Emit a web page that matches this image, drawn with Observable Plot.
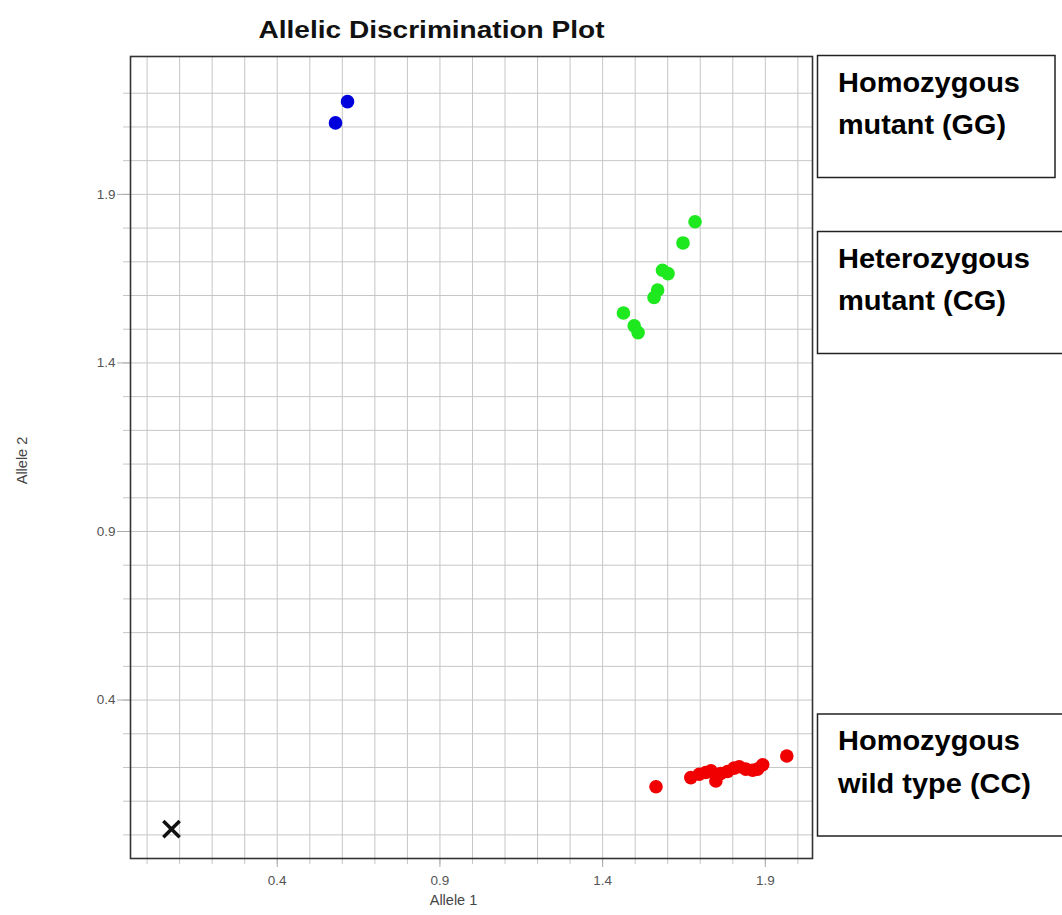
<!DOCTYPE html>
<html>
<head>
<meta charset="utf-8">
<script src="https://cdn.jsdelivr.net/npm/d3@7"></script>
<script src="https://cdn.jsdelivr.net/npm/@observablehq/plot@0.6"></script>
<style>
  body { margin: 0; background: #fff; }
  #chart { width: 1062px; height: 915px; }
</style>
</head>
<body>
<div id="chart"></div>
<script>
// Genotype clusters of an allelic discrimination (SNP genotyping) run
const genotypes = ["Homozygous mutant (GG)", "Heterozygous mutant (CG)", "Homozygous wild type (CC)"];
const genotypeColors = ["#0000dc", "#1ee81e", "#f00000"];

// Homozygous mutant (GG)
const ggAllele1 = [0.579, 0.616];
const ggAllele2 = [2.112, 2.175];

// Heterozygous mutant (CG)
const cgAllele1 = [1.464, 1.497, 1.509, 1.558, 1.569, 1.584, 1.601, 1.647, 1.684];
const cgAllele2 = [1.548, 1.510, 1.490, 1.594, 1.616, 1.675, 1.665, 1.756, 1.819];

// Homozygous wild type (CC)
const ccAllele1 = [1.564, 1.671, 1.697, 1.717, 1.733, 1.748, 1.763, 1.784, 1.804, 1.820, 1.840, 1.861, 1.876, 1.892, 1.966];
const ccAllele2 = [0.143, 0.170, 0.180, 0.185, 0.190, 0.160, 0.182, 0.188, 0.198, 0.202, 0.195, 0.192, 0.195, 0.208, 0.234];

// No-template control
const ntcAllele1 = [0.075];
const ntcAllele2 = [0.017];

// Axis ticks
const gridTicksX = [0.0, 0.1, 0.2, 0.3, 0.4, 0.5, 0.6, 0.7, 0.8, 0.9, 1.0, 1.1, 1.2, 1.3, 1.4, 1.5, 1.6, 1.7, 1.8, 1.9, 2.0];
const gridTicksY = [0.0, 0.1, 0.2, 0.3, 0.4, 0.5, 0.6, 0.7, 0.8, 0.9, 1.0, 1.1, 1.2, 1.3, 1.4, 1.5, 1.6, 1.7, 1.8, 1.9, 2.0, 2.1, 2.2];
const tickLabelsX = [0.4, 0.9, 1.4, 1.9];
const tickLabelsY = [0.4, 0.9, 1.4, 1.9];

const titleText = "Allelic Discrimination Plot";
const xLabel = "Allele 1";
const yLabel = "Allele 2";
const boxLines = [
  ["Homozygous", "mutant (GG)"],
  ["Heterozygous", "mutant (CG)"],
  ["Homozygous", "wild type (CC)"]
];

// Build sample rows
const samples = [];
[[ggAllele1, ggAllele2], [cgAllele1, cgAllele2], [ccAllele1, ccAllele2]].forEach(([a1, a2], g) => {
  a1.forEach((v, i) => samples.push({genotype: genotypes[g], allele1: v, allele2: a2[i]}));
});
const ntc = ntcAllele1.map((v, i) => ({allele1: v, allele2: ntcAllele2[i]}));

const font = "'Liberation Sans', Arial, sans-serif";

const plot = Plot.plot({
  width: 1062,
  height: 915,
  marginLeft: 130,
  marginRight: 250,
  marginTop: 56,
  marginBottom: 57,
  x: {domain: [-0.051, 2.045]},
  y: {domain: [-0.07, 2.309]},
  color: {domain: genotypes, range: genotypeColors},
  style: {fontFamily: font, fontSize: "14px", background: "#fff", overflow: "visible"},
  marks: [
    Plot.gridX(gridTicksX, {stroke: "#c6c6c6", strokeOpacity: 1, insetBottom: -6}),
    Plot.gridY(gridTicksY, {stroke: "#c6c6c6", strokeOpacity: 1, insetLeft: -7}),
    Plot.axisX(tickLabelsX, {tickSize: 9, tickPadding: 8, tickFormat: ".1f", stroke: "#aaa", fill: "#555", fontSize: 13.5, label: null}),
    Plot.axisY(tickLabelsY, {tickSize: 13, tickPadding: 2, tickFormat: ".1f", stroke: "#aaa", fill: "#555", fontSize: 13.5, label: null}),
    Plot.dot(samples, {x: "allele1", y: "allele2", fill: "genotype", r: 6.8}),
    Plot.dot(ntc, {x: "allele1", y: "allele2", symbol: "times", r: 7.5, stroke: "#111", strokeWidth: 3.5}),
    Plot.frame({stroke: "#333", strokeWidth: 1.6}),
    Plot.text([titleText], {text: d => d, frameAnchor: "top", textAnchor: "middle", lineAnchor: "middle", dx: -40, dy: -26, fontSize: 23, fontWeight: "bold", fill: "#111"}),
    Plot.text([xLabel], {text: d => d, frameAnchor: "bottom", textAnchor: "middle", lineAnchor: "middle", dx: -18, dy: 42, fontSize: 14.5, fill: "#444"}),
    Plot.text([yLabel], {text: d => d, frameAnchor: "left", textAnchor: "middle", lineAnchor: "middle", rotate: -90, dx: -108, dy: 3, fontSize: 14.5, fill: "#444"})
  ]
});

const svg = d3.select(plot);

// Stretch the title to its printed width
svg.selectAll("text").filter(function() { return this.textContent === titleText; })
  .attr("textLength", 346).attr("lengthAdjust", "spacingAndGlyphs");

// Genotype call boxes beside the plot
const boxTops = [55.5, 231.5, 714];
const boxWidths = [237.5, 260, 260];
const lineWidths = [[182, 168], [192, 168], [182, 193]];
const boxes = svg.append("g")
  .attr("font-family", font)
  .attr("font-weight", "bold")
  .attr("font-size", 27)
  .attr("text-anchor", "start")
  .attr("fill", "#000");
boxLines.forEach((lines, i) => {
  boxes.append("rect")
    .attr("x", 817.5).attr("y", boxTops[i])
    .attr("width", boxWidths[i]).attr("height", 122)
    .attr("fill", "none").attr("stroke", "#222").attr("stroke-width", 1.5);
  lines.forEach((line, j) => {
    boxes.append("text")
      .attr("x", 838).attr("y", boxTops[i] + 36 + j * 42.6)
      .attr("textLength", lineWidths[i][j]).attr("lengthAdjust", "spacingAndGlyphs")
      .text(line);
  });
});

document.getElementById("chart").appendChild(plot);
</script>
</body>
</html>
